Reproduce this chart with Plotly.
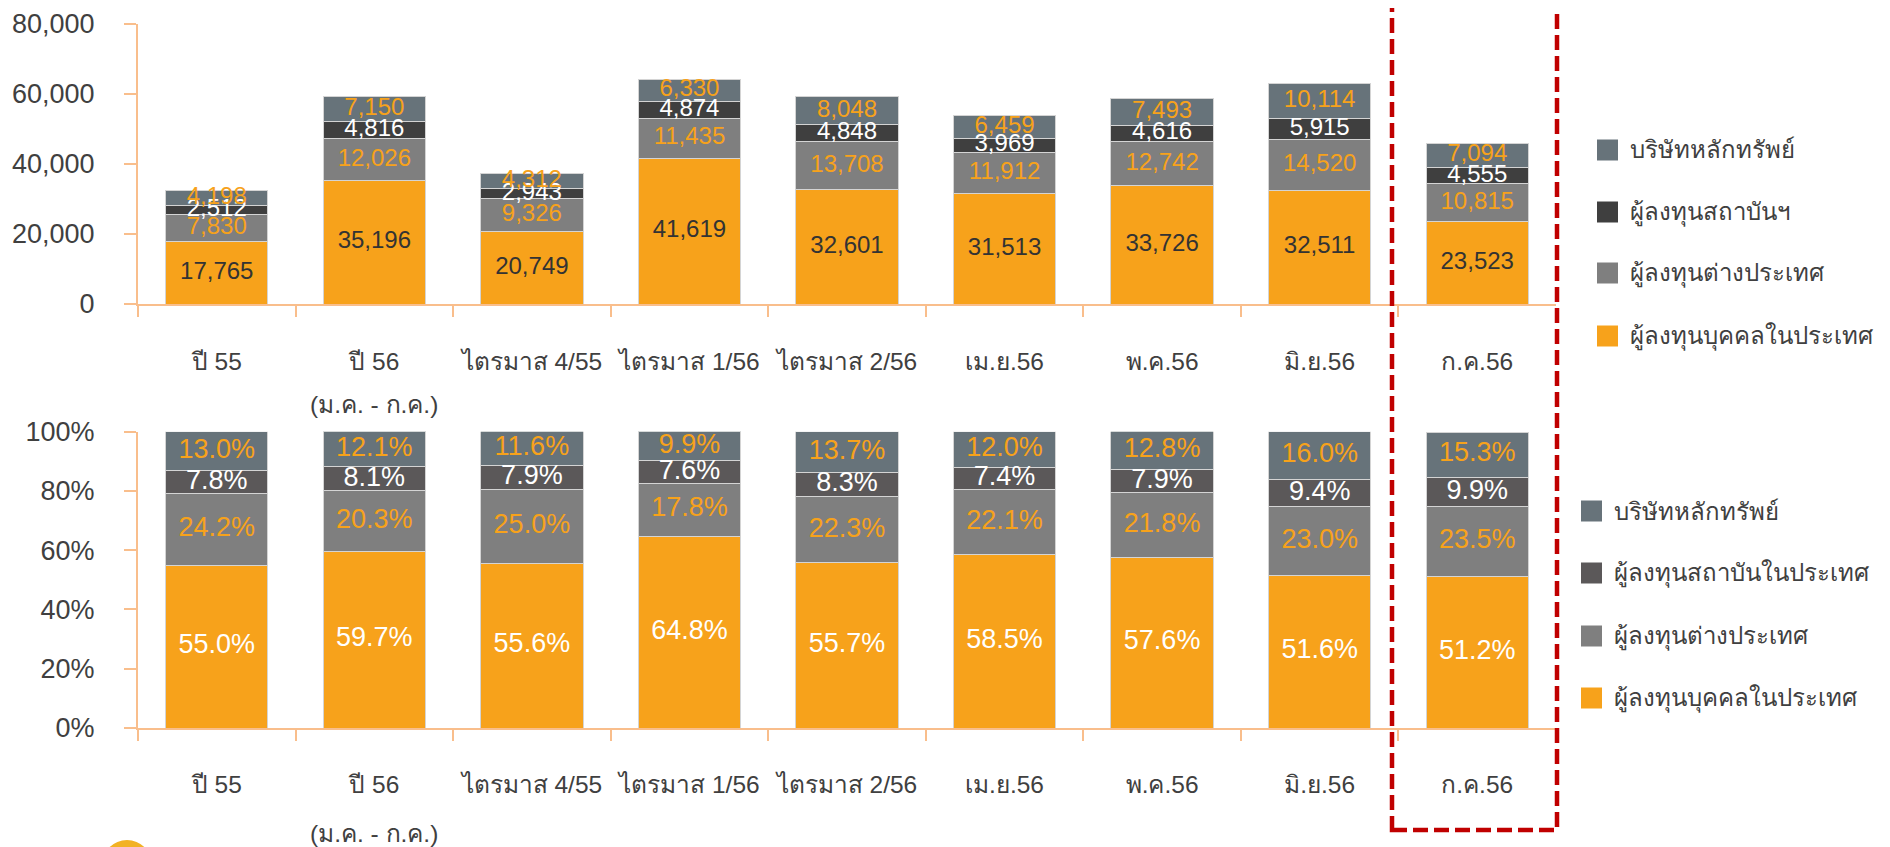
import plotly.graph_objects as go

# ---------------- data ----------------
categories = ["ปี 55", "ปี 56", "ไตรมาส 4/55", "ไตรมาส 1/56", "ไตรมาส 2/56",
              "เม.ย.56", "พ.ค.56", "มิ.ย.56", "ก.ค.56"]
sub_label_category = "ปี 56"
sub_label_text = "(ม.ค. - ก.ค.)"

# top chart: trading value (stacked, bottom -> top)
val_individual = [17765, 35196, 20749, 41619, 32601, 31513, 33726, 32511, 23523]
val_foreign = [7830, 12026, 9326, 11435, 13708, 11912, 12742, 14520, 10815]
val_institution = [2512, 4816, 2943, 4874, 4848, 3969, 4616, 5915, 4555]
val_broker = [4198, 7150, 4312, 6330, 8048, 6459, 7493, 10114, 7094]

# bottom chart: share (%)
pct_individual = [55.0, 59.7, 55.6, 64.8, 55.7, 58.5, 57.6, 51.6, 51.2]
pct_foreign = [24.2, 20.3, 25.0, 17.8, 22.3, 22.1, 21.8, 23.0, 23.5]
pct_institution = [7.8, 8.1, 7.9, 7.6, 8.3, 7.4, 7.9, 9.4, 9.9]
pct_broker = [13.0, 12.1, 11.6, 9.9, 13.7, 12.0, 12.8, 16.0, 15.3]

top_names = ["ผู้ลงทุนบุคคลในประเทศ", "ผู้ลงทุนต่างประเทศ", "ผู้ลงทุนสถาบันฯ", "บริษัทหลักทรัพย์"]
bottom_names = ["ผู้ลงทุนบุคคลในประเทศ", "ผู้ลงทุนต่างประเทศ", "ผู้ลงทุนสถาบันในประเทศ", "บริษัทหลักทรัพย์"]

top_ticks = [0, 20000, 40000, 60000, 80000]
top_tick_text = ["0", "20,000", "40,000", "60,000", "80,000"]
bottom_ticks = [0, 20, 40, 60, 80, 100]
bottom_tick_text = ["0%", "20%", "40%", "60%", "80%", "100%"]

# ---------------- style ----------------
OFF = 8                      # page body margin of the html page
W, H = 1890 - OFF, 847 - OFF
ORANGE = "#F7A21B"
FOREIGN = "#7F7F7F"
INST_TOP = "#3F3F3F"
INST_BOT = "#5B5859"
BROKER = "#67737A"
AXIS = "#F9BE8C"
TXT = "#404040"
FONT = "Tahoma, 'Liberation Sans', Arial, sans-serif"

top_colors = [ORANGE, FOREIGN, INST_TOP, BROKER]
bot_colors = [ORANGE, FOREIGN, INST_BOT, BROKER]
top_label_colors = ["#333333", ORANGE, "#FFFFFF", ORANGE]
bot_label_colors = ["#FFFFFF", ORANGE, "#FFFFFF", ORANGE]


def fx(px):
    return (px - OFF) / W


def fy(py):
    return (H - (py - OFF)) / H


fig = go.Figure()

top_series = [val_individual, val_foreign, val_institution, val_broker]
bot_series = [pct_individual, pct_foreign, pct_institution, pct_broker]


def add_stack(series, names, colors, label_colors, xa, ya, fmt, size):
    base = [0.0] * len(categories)
    for vals, name, col, lcol in zip(series, names, colors, label_colors):
        fig.add_trace(go.Bar(
            x=categories, y=vals, name=name,
            marker=dict(color=col, line=dict(color="#D4D4D4", width=1)),
            xaxis=xa, yaxis=ya, showlegend=False, hoverinfo="skip"))
        mids = [b + v / 2 for b, v in zip(base, vals)]
        fig.add_trace(go.Scatter(
            x=categories, y=mids, mode="text", text=[fmt(v) for v in vals],
            textposition="middle center",
            textfont=dict(color=lcol, size=size, family=FONT),
            xaxis=xa, yaxis=ya, showlegend=False, hoverinfo="skip"))
        base = [b + v for b, v in zip(base, vals)]


add_stack(top_series, top_names, top_colors, top_label_colors, "x", "y",
          lambda v: f"{v:,}", 24)
add_stack(bot_series, bottom_names, bot_colors, bot_label_colors, "x2", "y2",
          lambda v: f"{v:.1f}%", 27)

xdom = [fx(138), fx(1556)]
common_x = dict(
    type="category", domain=xdom, showline=True, linecolor=AXIS, linewidth=2,
    ticks="outside", tickson="boundaries", ticklen=11, tickcolor=AXIS, tickwidth=2,
    tickfont=dict(size=24.5, color=TXT, family=FONT), showgrid=False, zeroline=False,
    fixedrange=True, automargin=False,
)
common_y = dict(
    showline=True, linecolor=AXIS, linewidth=2, ticks="outside", ticklen=12,
    tickcolor=AXIS, tickwidth=2, showgrid=False, zeroline=False, automargin=False,
    tickfont=dict(size=27, color=TXT, family=FONT), ticklabelstandoff=24,
)

fig.update_layout(
    width=W, height=H,
    margin=dict(l=0, r=0, t=0, b=0),
    paper_bgcolor="white", plot_bgcolor="white",
    barmode="stack", bargap=0.35,
    font=dict(family=FONT, color=TXT),
    showlegend=False,
    xaxis=dict(**common_x, anchor="y", ticklabelstandoff=35),
    xaxis2=dict(**common_x, anchor="y2", ticklabelstandoff=34),
    yaxis=dict(**common_y, domain=[fy(304), fy(24)], range=[0, 80000],
               tickvals=top_ticks, ticktext=top_tick_text, anchor="x"),
    yaxis2=dict(**common_y, domain=[fy(728), fy(431.7)], range=[0, 100],
                tickvals=bottom_ticks, ticktext=bottom_tick_text, anchor="x2"),
)

# sub label under "ปี 56" on both charts
for xa, ypx in (("x", 404), ("x2", 833)):
    fig.add_annotation(x=sub_label_category, xref=xa, y=fy(ypx), yref="paper",
                       text=sub_label_text, showarrow=False,
                       font=dict(size=24.5, color=TXT, family=FONT),
                       xanchor="center", yanchor="middle")


# legends (drawn manually)
def add_legend(names, colors, sq_x0, centers, text_x, size):
    for name, col, cy in zip(names, colors, centers):
        fig.add_shape(type="rect", xref="paper", yref="paper",
                      x0=fx(sq_x0), x1=fx(sq_x0 + size),
                      y0=fy(cy + size / 2), y1=fy(cy - size / 2),
                      fillcolor=col, line=dict(width=0))
        fig.add_annotation(x=fx(text_x), y=fy(cy), xref="paper", yref="paper",
                           text=name, showarrow=False, xanchor="left", yanchor="middle",
                           font=dict(size=24, color=TXT, family=FONT))


add_legend(top_names[::-1], top_colors[::-1], 1597, [150, 212, 273, 336], 1628, 21)
add_legend(bottom_names[::-1], bot_colors[::-1], 1581, [511, 573, 636, 698], 1612, 21)

# red dashed highlight box
fig.add_shape(type="rect", xref="paper", yref="paper",
              x0=fx(1392), x1=fx(1557), y0=fy(830), y1=fy(-20),
              line=dict(color="#C00000", width=4.5, dash="15px,6px"),
              fillcolor="rgba(0,0,0,0)")

# partial logo at bottom-left
fig.add_shape(type="circle", xref="paper", yref="paper",
              x0=fx(102), x1=fx(152), y0=fy(890), y1=fy(840),
              fillcolor="#F2B224", line=dict(width=0))

fig.write_html("out.html")
